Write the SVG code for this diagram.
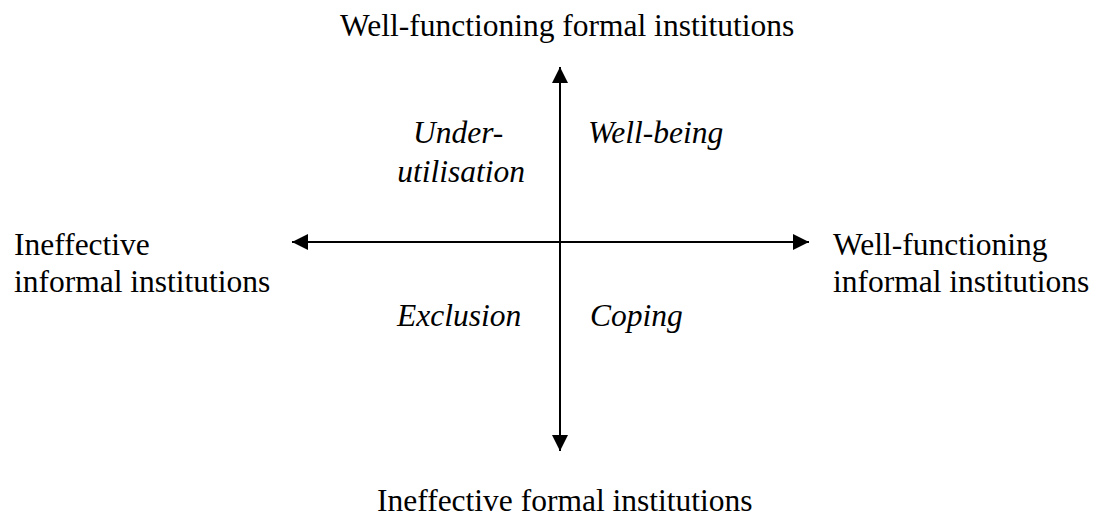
<svg xmlns="http://www.w3.org/2000/svg" width="1101" height="517" viewBox="0 0 1101 517">
  <style>
    .lbl { font-family: "Liberation Serif", "Times New Roman", serif; font-size: 31.5px; fill: #000; }
    .quad { font-family: "Liberation Serif", "Times New Roman", serif; font-size: 31.5px; font-style: italic; fill: #000; }
    .axis { stroke: #000; stroke-width: 2; fill: none; }
  </style>
  <defs>
    <marker id="head" viewBox="0 0 16 16" refX="16" refY="8" markerWidth="16" markerHeight="16" markerUnits="userSpaceOnUse" orient="auto-start-reverse">
      <path d="M0,0 L16,8 L0,16 Z" fill="#000"/>
    </marker>
  </defs>

  <!-- axes -->
  <g id="connectors">
    <line class="axis" x1="560" y1="67" x2="560" y2="451" marker-start="url(#head)" marker-end="url(#head)"/>
    <line class="axis" x1="292" y1="242" x2="809" y2="242" marker-start="url(#head)" marker-end="url(#head)"/>
  </g>

  <!-- axis end labels -->
  <g id="top-label">
    <text class="lbl" x="340" y="36">Well-functioning formal institutions</text>
  </g>
  <g id="bottom-label">
    <text class="lbl" x="377" y="511">Ineffective formal institutions</text>
  </g>
  <g id="left-label">
    <text class="lbl" x="14" y="255">Ineffective</text>
    <text class="lbl" x="14" y="292">informal institutions</text>
  </g>
  <g id="right-label">
    <text class="lbl" x="833" y="255">Well-functioning</text>
    <text class="lbl" x="833" y="292">informal institutions</text>
  </g>

  <!-- quadrant labels -->
  <g id="under-utilisation">
    <text class="quad" x="413" y="143">Under-</text>
    <text class="quad" x="525" y="182" text-anchor="end">utilisation</text>
  </g>
  <g id="well-being">
    <text class="quad" x="588" y="143">Well-being</text>
  </g>
  <g id="exclusion">
    <text class="quad" x="397" y="326">Exclusion</text>
  </g>
  <g id="coping">
    <text class="quad" x="590" y="326">Coping</text>
  </g>
</svg>
